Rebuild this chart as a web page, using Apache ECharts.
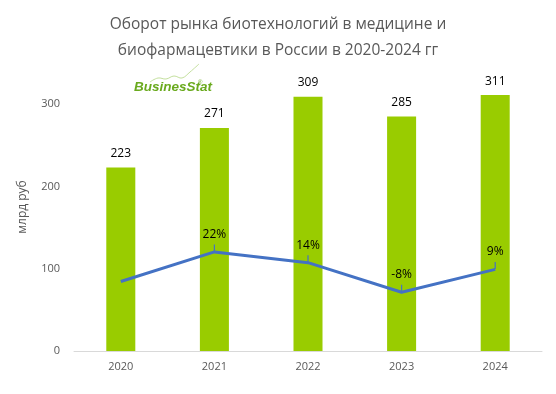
<!DOCTYPE html>
<html><head><meta charset="utf-8">
<script src="https://cdn.jsdelivr.net/npm/echarts@6/dist/echarts.min.js"></script>
<style>html,body{margin:0;padding:0;background:#fff}#c{width:556px;height:394px}</style>
</head><body><div id="c"></div>
<script>
const years = ['2020','2021','2022','2023','2024'];
const turnover = [223, 271, 309, 285, 311];
const growth = [0, 22, 14, -8, 9];
const growthLabels = ['', '22%', '14%', '-8%', '9%'];
const yTicks = [0, 100, 200, 300];

const chart = echarts.init(document.getElementById('c'));
const font = "'Open Sans', 'Liberation Sans', sans-serif";
chart.setOption({
  animation: false,
  backgroundColor: '#fff',
  title: {
    text: 'Оборот рынка биотехнологий в медицине и\nбиофармацевтики в России в 2020-2024 гг',
    left: 'center', top: 7,
    textStyle: {fontFamily: font, fontSize: 15.5, fontWeight: 'normal', color: '#595959', lineHeight: 26}
  },
  grid: {left: 74, right: 14, top: 63, bottom: 43},
  xAxis: {
    type: 'category', data: years,
    axisLine: {lineStyle: {color: '#d9d9d9'}},
    axisTick: {show: false},
    axisLabel: {color: '#595959', fontFamily: font, fontSize: 11, margin: 10}
  },
  yAxis: [{
    type: 'value', min: 0, max: 350, interval: 100,
    name: 'млрд руб', nameLocation: 'middle', nameGap: 45, nameRotate: 90,
    nameTextStyle: {color: '#595959', fontFamily: font, fontSize: 12},
    axisLine: {show: false}, axisTick: {show: false}, splitLine: {show: false},
    axisLabel: {color: '#595959', fontFamily: font, fontSize: 11, margin: 14,
      formatter: v => yTicks.includes(v) ? String(v) : ''}
  }, {
    type: 'value', min: -51.6, max: 162.3, show: false, splitLine: {show: false}
  }],
  series: [{
    type: 'bar', data: turnover, barWidth: '31%',
    itemStyle: {color: '#99cc00'},
    label: {show: true, position: 'top', distance: 8, color: '#000', fontFamily: font, fontSize: 12}
  }, {
    type: 'line', yAxisIndex: 1,
    data: growth.map((v, i) => growthLabels[i] ? {value: v} : {value: v, symbol: 'none'}),
    symbol: 'rect', symbolSize: [1.2, 7], symbolOffset: [0, -4], showSymbol: true,
    itemStyle: {color: '#4472c4'},
    lineStyle: {color: '#4472c4', width: 3},
    label: {show: true, position: 'top', distance: 4, color: '#000', fontFamily: font, fontSize: 12,
      formatter: p => growthLabels[p.dataIndex]}
  }],
  graphic: [{
    type: 'text', left: 134, top: 80,
    style: {text: 'BusinesStat', fill: '#6aaa1e', font: "italic bold 13.5px 'Liberation Sans', sans-serif"}
  }, {
    type: 'text', left: 198, top: 79,
    style: {text: '®', fill: '#6aaa1e', font: "6px sans-serif"}
  }, {
    type: 'polyline', shape: {points: [[150,82],[158,78],[166,79],[174,76],[182,78],[190,72],[199,64]], smooth: 0.4},
    style: {stroke: '#c4e09e', lineWidth: 1, fill: null}
  }]
});
</script></body></html>
